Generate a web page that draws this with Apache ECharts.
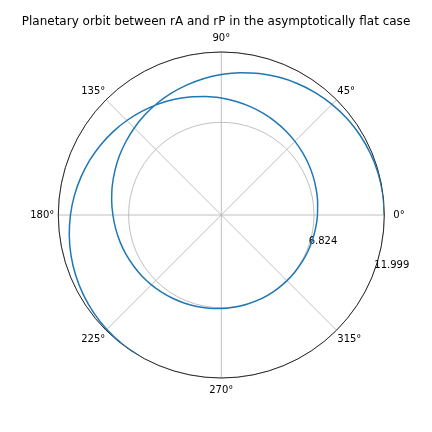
<!DOCTYPE html>
<html>
<head>
  <meta charset="utf-8">
  <script src="https://cdn.jsdelivr.net/npm/echarts@6/dist/echarts.min.js"></script>
</head>
<body style="margin: 0; background: #fff">
  <div id="main" style="width: 432px; height: 432px"></div>
  <script>
    var titleText = 'Planetary orbit between rA and rP in the asymptotically flat case';
    var rP = 6.824;
    var rA = 11.999;
    var radiusTicks = [rP, rA];

    // orbit: polar angle (deg, unwrapped, 7.5 deg steps) and radius
    var phi = [0, 7.5, 15, 22.5, 30, 37.5, 45, 52.5, 60, 67.5, 75, 82.5, 90, 97.5,
      105, 112.5, 120, 127.5, 135, 142.5, 150, 157.5, 165, 172.5, 180, 187.5, 195,
      202.5, 210, 217.5, 225, 232.5, 240, 247.5, 255, 262.5, 270, 277.5, 285, 292.5,
      300, 307.5, 315, 322.5, 330, 337.5, 345, 352.5, 360, 367.5, 375, 382.5, 390,
      397.5, 405, 412.5, 420, 427.5, 435, 442.5, 450, 457.5, 465, 472.5, 480, 487.5,
      495, 502.5, 510, 517.5, 525, 532.5, 540, 547.5, 555, 562.5, 570, 577.5, 585,
      592.5, 600];
    var radius = [11.999, 11.985, 11.943, 11.873, 11.778, 11.659, 11.518, 11.358,
      11.181, 10.99, 10.79, 10.57, 10.34, 10.12, 9.90, 9.69, 9.48, 9.27, 9.06, 8.86,
      8.67, 8.48, 8.31, 8.14, 7.98, 7.84, 7.71, 7.59, 7.47, 7.37, 7.27, 7.18, 7.10,
      7.035, 6.975, 6.925, 6.885, 6.857, 6.838, 6.827, 6.824, 6.825, 6.834, 6.851,
      6.878, 6.914, 6.959, 7.014, 7.078, 7.152, 7.235, 7.329, 7.432, 7.544, 7.667,
      7.799, 7.942, 8.094, 8.256, 8.427, 8.607, 8.796, 8.993, 9.197, 9.406, 9.621,
      9.838, 10.057, 10.276, 10.493, 10.705, 10.910, 11.105, 11.287, 11.454, 11.603,
      11.730, 11.835, 11.915, 11.968, 11.997];

    var font = 'DejaVu Sans';
    var orbit = phi.map(function (a, i) {
      return [radius[i], a % 360];
    });

    var chart = echarts.init(document.getElementById('main'));

    function txt(pad) {
      return { padding: pad, fontFamily: font, fontSize: 10, color: '#000' };
    }

    var option = {
      animation: false,
      title: {
        text: titleText,
        left: 'center',
        top: 11,
        padding: [5, 0, 5, 11],
        textStyle: { fontFamily: font, fontSize: 12, fontWeight: 'normal', color: '#000' }
      },
      polar: {
        center: [221.3, 215],
        radius: 163
      },
      angleAxis: {
        type: 'value',
        min: 0,
        max: 360,
        interval: 45,
        startAngle: 0,
        clockwise: false,
        z: 3,
        axisLine: { lineStyle: { color: '#000', width: 0.8 } },
        axisTick: { show: false },
        splitLine: { show: true, lineStyle: { color: '#b0b0b0', width: 0.8 } },
        axisLabel: {
          margin: 1,
          fontFamily: font,
          fontSize: 10,
          color: '#000',
          formatter: function (v) {
            if (v === 360) return '';
            var map = { 0: 'e', 45: 'd', 90: 'n', 135: 'd', 180: 'w', 225: 'u', 270: 's', 315: 'u' };
            return '{' + map[v] + '|' + v + '°}';
          },
          rich: {
            e: txt([0, 0, 0, 8]),
            n: txt([0, 0, 8, 0]),
            w: txt([0, 3, 0, 0]),
            s: txt([6, 0, 0, 0]),
            d: txt([0, 0, 3, 0]),
            u: txt([3, 0, 0, 0])
          }
        }
      },
      radiusAxis: {
        type: 'value',
        min: 0,
        max: rA,
        axisLine: { show: false },
        axisTick: { show: false, customValues: radiusTicks },
        splitLine: { show: true, lineStyle: { color: '#b0b0b0', width: 0.8 } },
        axisLabel: {
          customValues: radiusTicks,
          margin: 0,
          align: 'center',
          verticalAlign: 'middle',
          fontFamily: font,
          fontSize: 10,
          color: '#000',
          formatter: function (v) {
            return v === rP ? '{a|' + rP.toFixed(3) + '}' : '{b|' + rA.toFixed(3) + '}';
          },
          rich: {
            a: txt([53, 0, 0, 18]),
            b: txt([100, 0, 0, 15])
          }
        }
      },
      series: [{
        type: 'line',
        coordinateSystem: 'polar',
        data: orbit,
        showSymbol: false,
        smooth: 0.3,
        lineStyle: { color: '#1f77b4', width: 1.5 }
      }]
    };

    chart.setOption(option);
  </script>
</body>
</html>
